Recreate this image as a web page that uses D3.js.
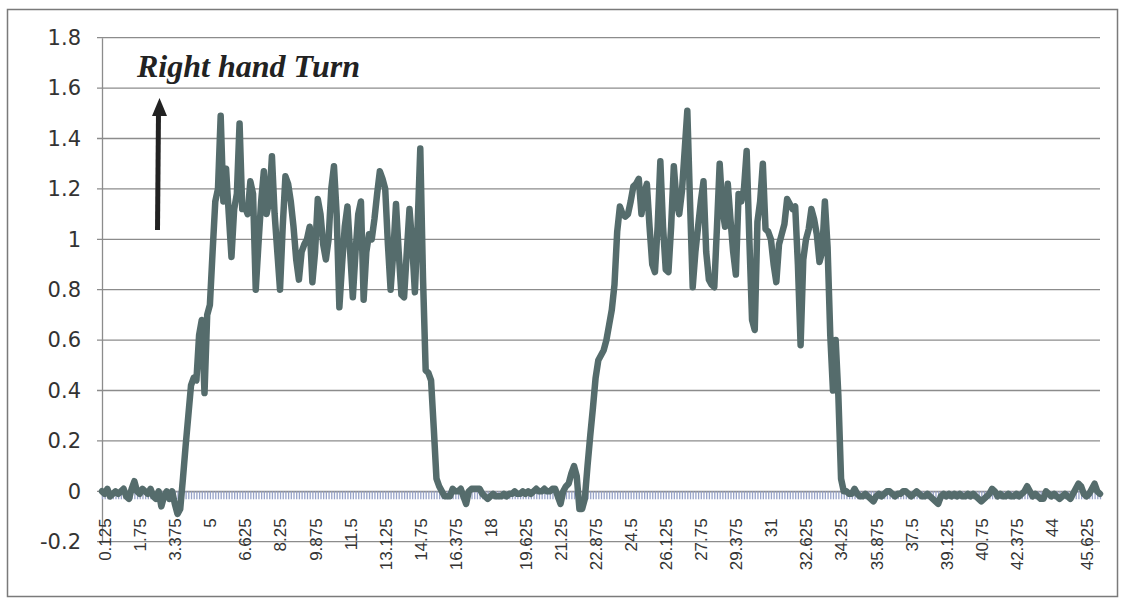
<!DOCTYPE html>
<html>
  <head>
    <meta charset="utf-8">
    <title>Right hand Turn</title>
    <script src="https://d3js.org/d3.v7.min.js"></script>
    <style>
      body { margin: 0; background: #fff; }
      .grid line { stroke: #8c8c8c; stroke-width: 1.3; }
      .yaxis text { font-family: "DejaVu Sans"; font-size: 21px; fill: #333; }
      .yaxis path { stroke: #8c8c8c; stroke-width: 1.3; }
      .catticks line { stroke: #97a3c8; stroke-width: 1.3; }
      .catticks path { stroke: #8c8c8c; stroke-width: 1.3; }
      .xlab { font-family: "Liberation Sans"; font-size: 17px; fill: #333; }
      .turn { fill: none; stroke: #556c6c; stroke-width: 6.5; stroke-linejoin: round; stroke-linecap: round; }
    </style>
  </head>
  <body>
    <svg width="1122" height="600"></svg>
    <script>
      // readings, one value per 0.125 step
      var baselineStart = [
        0.00, -0.01, 0.01, -0.02, -0.01, 0.00, -0.01, 0.00, 0.01, -0.02,
        -0.03, 0.01, 0.04, 0.00, -0.01, 0.01, 0.00, -0.01, 0.01, -0.02,
        -0.03, 0.00, -0.06, -0.02, 0.00, -0.03, 0.00, -0.05, -0.09, -0.07
      ];
      var firstTurn = [
        0.05, 0.18, 0.30, 0.42, 0.45, 0.44, 0.62, 0.68, 0.39, 0.70,
        0.74, 0.95, 1.15, 1.20, 1.49, 1.15, 1.28, 1.10, 0.93, 1.12,
        1.18, 1.46, 1.12, 1.13, 1.10, 1.23, 1.18, 0.80, 0.98, 1.15,
        1.27, 1.10, 1.15, 1.33, 1.10, 0.95, 0.80, 1.05, 1.25, 1.22,
        1.15, 1.05, 0.92, 0.84, 0.95, 0.98, 1.00, 1.05, 0.83, 0.95,
        1.16, 1.10, 0.98, 0.92, 1.00, 1.20, 1.29, 1.10, 0.73, 0.90,
        1.05, 1.13, 0.95, 0.77, 0.95, 1.10, 1.15, 0.76, 0.95, 1.02,
        1.00, 1.08, 1.18, 1.27, 1.24, 1.20, 0.98, 0.80, 0.95, 1.14,
        0.95, 0.78, 0.77, 0.95, 1.12, 0.98, 0.79, 1.05, 1.36, 0.85,
        0.48, 0.47, 0.44, 0.25, 0.05, 0.02
      ];
      var baselineMiddle = [
        0.00, -0.02, -0.02, -0.02, 0.01, 0.00, 0.00, 0.01, -0.02, -0.05,
        0.00, 0.01, 0.01, 0.01, 0.01, -0.01, -0.02, -0.03, -0.02, -0.01,
        -0.02, -0.02, -0.02, -0.01, -0.02, -0.01, -0.01, 0.00, -0.01, -0.01,
        0.00, -0.01, 0.00, -0.01, 0.00, 0.01, 0.00, 0.00, 0.01, 0.00,
        0.00, 0.01, 0.01, -0.02, -0.05, 0.00, 0.02, 0.03, 0.07, 0.10,
        0.06, -0.07, -0.07, -0.03
      ];
      var secondTurn = [
        0.10, 0.22, 0.33, 0.45, 0.52, 0.54, 0.56, 0.60, 0.66, 0.72,
        0.82, 1.03, 1.13, 1.10, 1.09, 1.10, 1.15, 1.21, 1.22, 1.24,
        1.10, 1.18, 1.22, 1.05, 0.90, 0.87, 1.05, 1.31, 1.05, 0.88,
        0.87, 1.05, 1.29, 1.15, 1.10, 1.19, 1.35, 1.51, 1.15, 0.81,
        0.95, 1.05, 1.15, 1.23, 0.95, 0.84, 0.82, 0.81, 1.05, 1.30,
        1.12, 1.05, 1.22, 1.08, 0.95, 0.86, 1.18, 1.15, 1.20, 1.35,
        1.00, 0.68, 0.64, 1.07, 1.15, 1.30, 1.04, 1.03, 1.00, 0.90,
        0.83, 0.98, 1.02, 1.06, 1.16, 1.14, 1.12, 1.13, 0.90, 0.58,
        0.92, 1.00, 1.04, 1.12, 1.08, 1.02, 0.91, 0.95, 1.15, 0.97,
        0.62, 0.40, 0.60, 0.38, 0.05, 0.00
      ];
      var baselineEnd = [
        0.00, -0.01, -0.01, 0.01, -0.01, -0.02, -0.02, -0.01, -0.02, -0.03,
        -0.04, -0.02, -0.01, -0.02, -0.01, 0.00, 0.00, -0.01, -0.02, -0.01,
        -0.01, 0.00, 0.00, -0.01, -0.02, -0.01, 0.00, -0.01, -0.02, -0.02,
        -0.01, -0.02, -0.03, -0.04, -0.05, -0.02, -0.01, -0.02, -0.01, -0.02,
        -0.01, -0.02, -0.01, -0.02, -0.02, -0.01, -0.02, -0.01, -0.02, -0.03,
        -0.04, -0.03, -0.02, -0.01, 0.01, 0.00, -0.02, -0.01, -0.02, -0.02,
        -0.01, -0.02, -0.02, -0.01, -0.02, -0.01, 0.00, 0.02, 0.00, -0.02,
        -0.01, -0.02, -0.03, -0.03, 0.00, -0.01, -0.02, -0.01, -0.02, -0.03,
        -0.02, -0.01, -0.02, -0.03, -0.01, 0.01, 0.03, 0.02, -0.01, -0.02,
        -0.01, 0.01, 0.03, 0.00, -0.01
      ];
      var values = baselineStart.concat(firstTurn, baselineMiddle, secondTurn, baselineEnd);

      // category axis: one category every 0.125
      var step = 0.125;
      var categories = values.map(function(d, i) { return (i + 1) * step; });
      var tickLabels = [0.125, 1.75, 3.375, 5, 6.625, 8.25, 9.875, 11.5, 13.125, 14.75,
                        16.375, 18, 19.625, 21.25, 22.875, 24.5, 26.125, 27.75, 29.375, 31,
                        32.625, 34.25, 35.875, 37.5, 39.125, 40.75, 42.375, 44, 45.625];
      var yTicks = [-0.2, 0, 0.2, 0.4, 0.6, 0.8, 1, 1.2, 1.4, 1.6, 1.8];

      var margin = {top: 37.7, right: 22, bottom: 58.3, left: 102},
          width = 1122 - margin.left - margin.right,
          height = 600 - margin.top - margin.bottom;

      var svg = d3.select("svg");

      svg.append("rect")
          .attr("x", 7.5).attr("y", 9.5)
          .attr("width", 1110).attr("height", 587)
          .attr("fill", "#fff")
          .attr("stroke", "#7a7a7a")
          .attr("stroke-width", 1.5);

      var g = svg.append("g")
          .attr("transform", "translate(" + margin.left + "," + margin.top + ")");

      var x = d3.scaleLinear()
          .domain([categories[0], categories[categories.length - 1]])
          .range([0, width]);

      var y = d3.scaleLinear()
          .domain([-0.2, 1.8])
          .range([height, 0]);

      g.append("g")
          .attr("class", "grid")
        .selectAll("line")
        .data(yTicks)
        .enter().append("line")
          .attr("x1", -5)
          .attr("x2", width)
          .attr("y1", function(d) { return y(d); })
          .attr("y2", function(d) { return y(d); });

      g.append("g")
          .attr("class", "yaxis")
          .call(d3.axisLeft(y)
            .tickValues(yTicks)
            .tickSize(0)
            .tickPadding(21)
            .tickFormat(function(d) { return String(d); }));

      // dense category tick marks hanging under the zero line
      g.append("g")
          .attr("class", "catticks")
          .attr("transform", "translate(0," + y(0) + ")")
          .call(d3.axisBottom(x)
            .tickValues(categories)
            .tickSizeInner(8)
            .tickSizeOuter(0)
            .tickFormat(""));

      g.selectAll(".xlab")
          .data(tickLabels)
          .enter().append("text")
          .attr("class", "xlab")
          .attr("text-anchor", "end")
          .attr("dy", "0.36em")
          .attr("transform", function(d) {
            return "translate(" + (x(d) + 3) + "," + (y(0) + 27) + ") rotate(-90)";
          })
          .text(function(d) { return String(d); });

      var line = d3.line()
          .x(function(d, i) { return x(categories[i]); })
          .y(function(d) { return y(d); });

      g.append("path")
          .datum(values)
          .attr("class", "turn")
          .attr("d", line);

      // annotation
      svg.append("text")
          .attr("x", 137)
          .attr("y", 77)
          .attr("font-family", "Liberation Serif")
          .attr("font-weight", "bold")
          .attr("font-style", "italic")
          .attr("font-size", 32)
          .attr("fill", "#222")
          .text("Right hand Turn");

      svg.append("line")
          .attr("x1", 157.5).attr("y1", 230)
          .attr("x2", 158.5).attr("y2", 112)
          .attr("stroke", "#222")
          .attr("stroke-width", 5);

      svg.append("path")
          .attr("d", "M159.5,98 L167,116 L152,116 Z")
          .attr("fill", "#222");
    </script>
  </body>
</html>
